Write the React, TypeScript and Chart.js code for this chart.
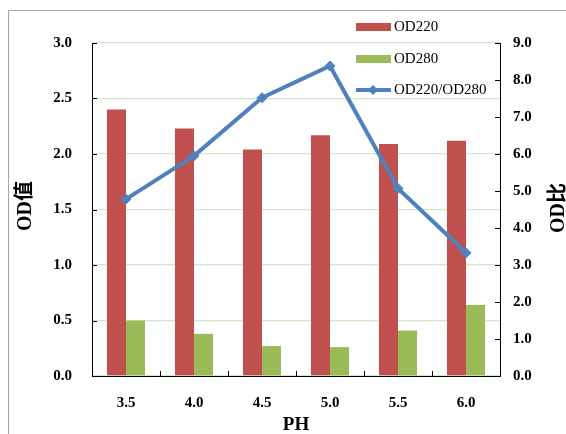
import React, { useEffect, useRef } from "react";
import { Chart, registerables } from "chart.js";

Chart.register(...registerables);

// pH values on the category axis
const phLabels = ["3.5", "4.0", "4.5", "5.0", "5.5", "6.0"];
// absorbance at 220 nm and 280 nm
const od220 = [2.4, 2.23, 2.04, 2.17, 2.09, 2.12];
const od280 = [0.5, 0.38, 0.27, 0.26, 0.41, 0.64];
// ratio OD220 / OD280
const odRatio = [4.78, 5.95, 7.52, 8.38, 5.07, 3.33];

const RED = "#C0504D";
const GREEN = "#9BBB59";
const BLUE = "#4F81BD";
const SERIF = "'Liberation Serif', 'Times New Roman', 'Noto Sans CJK SC', serif";

const decorPlugin = {
  id: "decor",
  afterDraw(chart: any) {
    const ctx: CanvasRenderingContext2D = chart.ctx;
    const { left, right, bottom } = chart.chartArea;
    const y = chart.scales.y;
    const y1 = chart.scales.y1;
    ctx.save();

    // inward tick marks
    ctx.strokeStyle = "#000";
    ctx.lineWidth = 1;
    ctx.beginPath();
    y.ticks.forEach((t: any) => {
      const py = Math.round(y.getPixelForValue(t.value)) + 0.5;
      ctx.moveTo(left, py);
      ctx.lineTo(left + 5, py);
    });
    y1.ticks.forEach((t: any) => {
      const py = Math.round(y1.getPixelForValue(t.value)) + 0.5;
      ctx.moveTo(right - 5, py);
      ctx.lineTo(right, py);
    });
    const n = phLabels.length;
    for (let i = 0; i <= n; i++) {
      const px = Math.round(left + (i * (right - left)) / n) + 0.5;
      ctx.moveTo(px, bottom);
      ctx.lineTo(px, bottom - 5);
    }
    ctx.stroke();

    // axis titles
    ctx.fillStyle = "#000";
    ctx.font = `bold 20px ${SERIF}`;
    ctx.textAlign = "center";
    ctx.textBaseline = "middle";
    ctx.save();
    ctx.translate(26, 206);
    ctx.rotate(-Math.PI / 2);
    ctx.fillText("OD值", 0, 0);
    ctx.restore();
    ctx.save();
    ctx.translate(559, 208);
    ctx.rotate(-Math.PI / 2);
    ctx.fillText("OD比", 0, 0);
    ctx.restore();
    ctx.font = `bold 19px ${SERIF}`;
    ctx.fillText("PH", (left + right) / 2, 425);

    // legend
    ctx.font = `15px ${SERIF}`;
    ctx.textAlign = "left";
    ctx.fillStyle = RED;
    ctx.fillRect(356, 23, 35, 8);
    ctx.fillStyle = GREEN;
    ctx.fillRect(356, 55, 35, 8);
    ctx.strokeStyle = BLUE;
    ctx.lineWidth = 4;
    ctx.beginPath();
    ctx.moveTo(356, 90);
    ctx.lineTo(391, 90);
    ctx.stroke();
    ctx.fillStyle = BLUE;
    ctx.beginPath();
    ctx.moveTo(373, 85);
    ctx.lineTo(378, 90);
    ctx.lineTo(373, 95);
    ctx.lineTo(368, 90);
    ctx.closePath();
    ctx.fill();
    ctx.fillStyle = "#000";
    ctx.fillText("OD220", 394, 27);
    ctx.fillText("OD280", 394, 59);
    ctx.fillText("OD220/OD280", 394, 90);

    // outer frame
    ctx.strokeStyle = "#a6a6a6";
    ctx.lineWidth = 1;
    ctx.beginPath();
    ctx.moveTo(8.5, 434);
    ctx.lineTo(8.5, 10.5);
    ctx.lineTo(566, 10.5);
    ctx.stroke();

    ctx.restore();
  },
};

export default function App() {
  const canvasRef = useRef<HTMLCanvasElement | null>(null);

  useEffect(() => {
    const canvas = canvasRef.current;
    if (!canvas) return;
    const tickFont = { family: SERIF, size: 15, weight: "bold" as const };
    const chart = new Chart(canvas, {
      type: "bar",
      data: {
        labels: phLabels,
        datasets: [
          {
            type: "line",
            label: "OD220/OD280",
            data: odRatio,
            yAxisID: "y1",
            borderColor: BLUE,
            backgroundColor: BLUE,
            borderWidth: 4,
            pointStyle: "rectRot",
            pointRadius: 5,
            pointBorderWidth: 1,
            pointBackgroundColor: BLUE,
            pointBorderColor: BLUE,
            tension: 0,
            order: 0,
          } as any,
          {
            type: "bar",
            label: "OD220",
            data: od220,
            yAxisID: "y",
            backgroundColor: RED,
            order: 1,
          },
          {
            type: "bar",
            label: "OD280",
            data: od280,
            yAxisID: "y",
            backgroundColor: GREEN,
            order: 2,
          },
        ],
      },
      options: {
        responsive: false,
        animation: false,
        devicePixelRatio: 1,
        layout: { padding: { top: 43, left: 0, right: 0, bottom: 0 } },
        datasets: {
          bar: { categoryPercentage: 0.56, barPercentage: 1.0 },
        },
        plugins: {
          legend: { display: false },
          tooltip: { enabled: false },
        },
        scales: {
          x: {
            grid: { display: false, drawTicks: false },
            border: { display: true, color: "#000", width: 1 },
            ticks: { font: tickFont, color: "#000", padding: 18, maxRotation: 0 },
            afterFit(scale: any) {
              scale.height = 58;
            },
          },
          y: {
            position: "left",
            min: 0,
            max: 3,
            grid: { color: "#cfe8c5", lineWidth: 1.3, drawTicks: false },
            border: { display: true, color: "#000", width: 1 },
            ticks: {
              stepSize: 0.5,
              font: tickFont,
              color: "#000",
              padding: 20,
              callback: (v: any) => Number(v).toFixed(1),
            },
            afterFit(scale: any) {
              scale.width = 92;
            },
          },
          y1: {
            position: "right",
            min: 0,
            max: 9,
            grid: { display: false, drawTicks: false },
            border: { display: true, color: "#000", width: 1 },
            ticks: {
              stepSize: 1,
              font: tickFont,
              color: "#000",
              padding: 13,
              callback: (v: any) => Number(v).toFixed(1),
            },
            afterFit(scale: any) {
              scale.width = 66;
            },
          },
        },
      },
      plugins: [decorPlugin],
    });
    return () => chart.destroy();
  }, []);

  return (
    <div style={{ position: "fixed", left: 0, top: 0, width: 566, height: 434, background: "#fff" }}>
      <canvas ref={canvasRef} width={566} height={434} style={{ display: "block" }} />
    </div>
  );
}
